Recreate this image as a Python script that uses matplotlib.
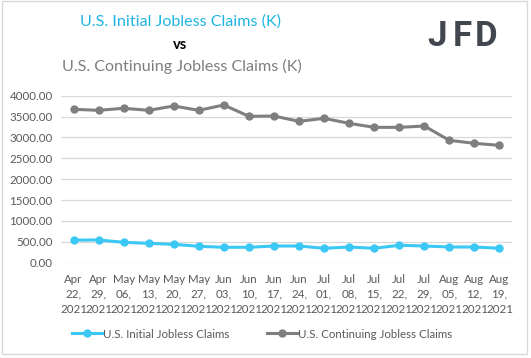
import matplotlib.pyplot as plt
from matplotlib.patches import Rectangle

# data
dates = ["Apr\n22,\n2021", "Apr\n29,\n2021", "May\n06,\n2021", "May\n13,\n2021",
         "May\n20,\n2021", "May\n27,\n2021", "Jun\n03,\n2021", "Jun\n10,\n2021",
         "Jun\n17,\n2021", "Jun\n24,\n2021", "Jul\n01,\n2021", "Jul\n08,\n2021",
         "Jul\n15,\n2021", "Jul\n22,\n2021", "Jul\n29,\n2021", "Aug\n05,\n2021",
         "Aug\n12,\n2021", "Aug\n19,\n2021"]
initial = [540, 545, 488, 464, 440, 393, 369, 369, 400, 400, 345, 376, 345, 417, 400, 376, 376, 345]
continuing = [3674, 3650, 3698, 3650, 3753, 3650, 3777, 3506, 3513, 3386, 3458, 3338,
              3242, 3242, 3274, 2931, 2859, 2811]
yticks = [0, 500, 1000, 1500, 2000, 2500, 3000, 3500, 4000]

cyan = '#3CC8F4'
gray = '#7F7F7F'
txt = '#595959'
font = 'Lato'

fig = plt.figure(figsize=(5.31, 3.58), dpi=100)
ax = fig.add_axes([61/531, 1 - 262.7/358, 451/531, 167/358])

x = range(len(dates))
ax.plot(x, initial, '-o', color=cyan, lw=2.2, ms=5, label="U.S. Initial Jobless Claims")
ax.plot(x, continuing, '-o', color=gray, lw=2.2, ms=5, label="U.S. Continuing Jobless Claims")

ax.set_xlim(-0.5, len(dates) - 0.5)
ax.set_ylim(0, 4000)
ax.set_yticks(yticks)
ax.set_yticklabels([f"{v:.2f}" for v in yticks], fontsize=8.3, color=txt, family=font)
ax.set_xticks(list(x))
ax.set_xticklabels(dates, fontsize=8.3, color=txt, family=font, linespacing=1.45)
ax.tick_params(axis='x', length=0, pad=8)
ax.tick_params(axis='y', length=0, pad=6)
ax.grid(axis='y', color='#D9D9D9', lw=0.9)
ax.set_axisbelow(True)
for s in ax.spines.values():
    s.set_visible(False)

# titles
fig.text(180/531, 1 - 22/358, "U.S. Initial Jobless Claims (K)", color='#1FB5E2',
         fontsize=11.6, family=font, ha='center', va='center')
fig.text(180/531, 1 - 45/358, "vs", color='black', fontsize=10.5, family=font,
         fontweight='bold', ha='center', va='center')
fig.text(182/531, 1 - 66/358, "U.S. Continuing Jobless Claims (K)", color=gray,
         fontsize=11.6, family=font, ha='center', va='center')

# logo, letter by letter
for letter, lx in zip("JFD", [437, 462, 486]):
    fig.text(lx/531, 1 - 36/358, letter, color='#42474F', fontsize=25, fontweight='bold',
             family='Roboto', ha='center', va='center')

fig.legend(loc='center', bbox_to_anchor=(262/531, 1 - 334/358), ncol=2, frameon=False,
           prop={'family': font, 'size': 8.3}, labelcolor=txt, handlelength=2.6,
           handletextpad=0.1, columnspacing=3.3)

# outer border
fig.patches.append(Rectangle((2/531, 4/358), 525/531, 353/358, transform=fig.transFigure,
                             fill=False, edgecolor='#D9D9D9', lw=1))

fig.savefig("out.png", dpi=100)
